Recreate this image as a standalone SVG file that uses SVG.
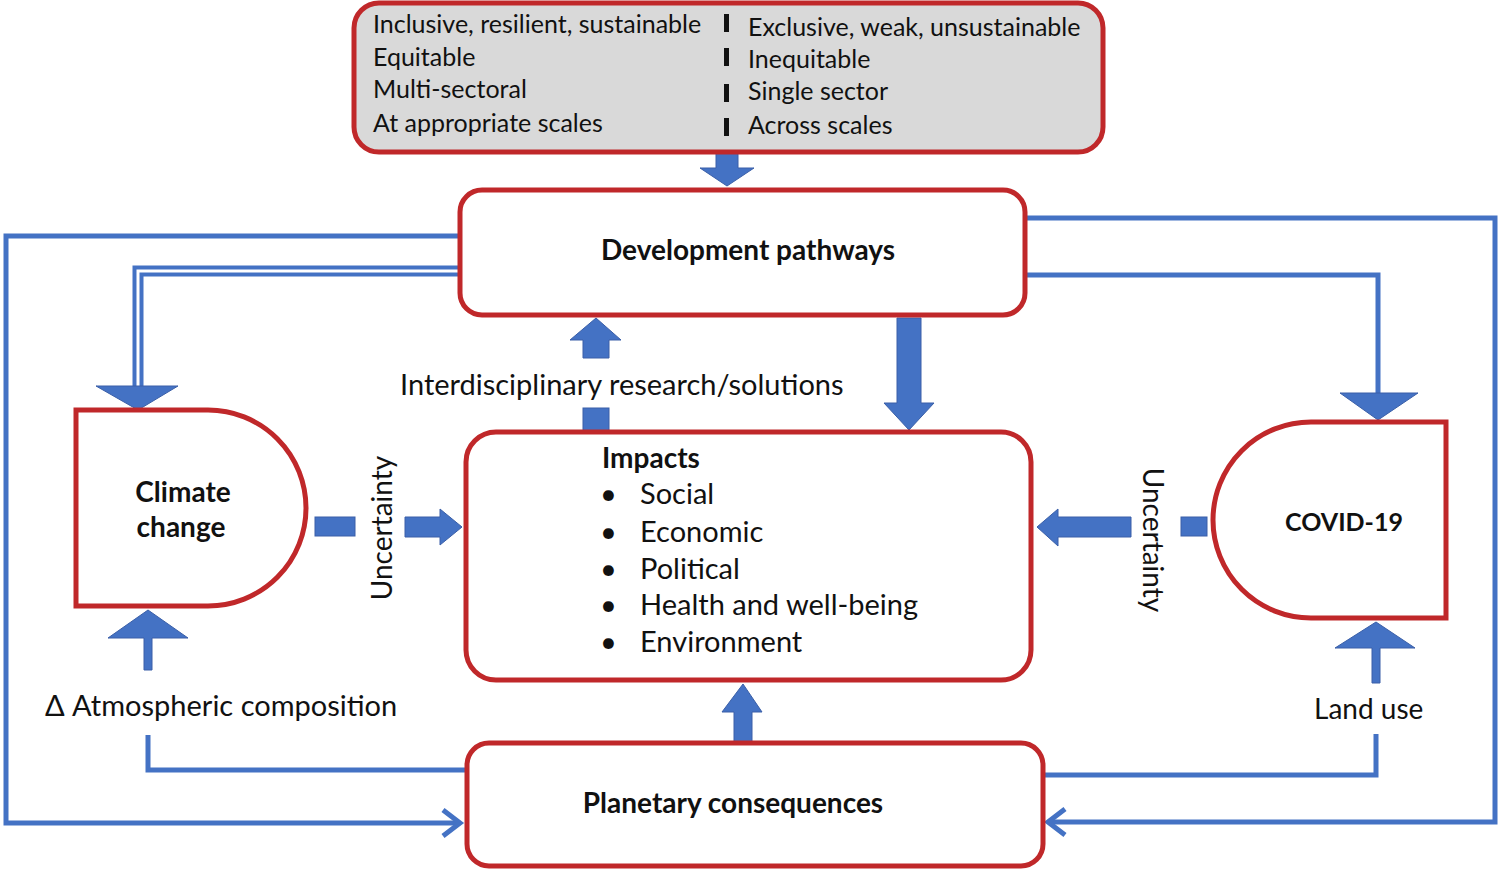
<svg xmlns="http://www.w3.org/2000/svg" width="1500" height="869" viewBox="0 0 1500 869">
<style>
.box{fill:#fff;stroke:#c0282a;stroke-width:5}
.t{font-family:Lato,"Liberation Sans",sans-serif;font-size:25px;fill:#111}
.m{font-size:28px}
.l{font-size:29px}
.b{font-weight:bold}
.ln{fill:none;stroke:#4472c4;stroke-width:5}
.bl{fill:#4472c4;stroke:#3a5fa8;stroke-width:1}
</style>
<rect width="1500" height="869" fill="#fff"/>
<g id="connectors">
<polyline class="ln" points="460,236 6,236 6,823 458,823"/>
<polyline class="ln" points="443,810 460,823 443,836"/>
<polyline class="ln" points="1025,218 1495,218 1495,822 1048,822"/>
<polyline class="ln" points="1065,809 1048,822 1065,835"/>
<polyline points="460,271 138,271 138,390" style="fill:none;stroke:#4472c4;stroke-width:11"/>
<polyline points="460,271 138,271 138,390" style="fill:none;stroke:#fff;stroke-width:3"/>
<polygon class="bl" points="96,386 178,386 138,410"/>
<polyline class="ln" points="1025,275 1378,275 1378,395"/>
<polygon class="bl" points="1340,393 1418,393 1378,420"/>
<polygon class="bl" points="716,152 738,152 738,168 754,168 727,186 700,168 716,168"/>
<polygon class="bl" points="897,318 921,318 921,403 934,403 909,430 884,403 897,403"/>
<polygon class="bl" points="570,340 596,318 621,340 609,340 609,358 583,358 583,340"/>
<rect class="bl" x="583" y="408" width="26" height="24"/>
<polygon class="bl" points="734,743 752,743 752,712 762,712 743,684 722,712 734,712"/>
<rect class="bl" x="315" y="517" width="40" height="19"/>
<polygon class="bl" points="405,517 440,517 440,509 462,527 440,545 440,537 405,537"/>
<rect class="bl" x="1181" y="517" width="26" height="19"/>
<polygon class="bl" points="1131,517 1058,517 1058,509 1037,527 1058,546 1058,537 1131,537"/>
<polygon class="bl" points="108,638 148,610 188,638 152,638 152,670 144,670 144,638"/>
<polyline class="ln" points="148,735 148,770 467,770"/>
<polygon class="bl" points="1335,648 1376,622 1415,648 1380,648 1380,683 1372,683 1372,648"/>
<polyline class="ln" points="1376,734 1376,775 1043,775"/>
</g>
<g id="criteria">
<rect x="354" y="3" width="749" height="149" rx="25" fill="#d9d9d9" stroke="#c0282a" stroke-width="5"/>
<text class="t" x="373" y="33">Inclusive, resilient, sustainable</text>
<text class="t" x="373" y="66">Equitable</text>
<text class="t" x="373" y="98">Multi-sectoral</text>
<text class="t" x="373" y="132">At appropriate scales</text>
<text class="t" x="748" y="36">Exclusive, weak, unsustainable</text>
<text class="t" x="748" y="68">Inequitable</text>
<text class="t" x="748" y="100">Single sector</text>
<text class="t" x="748" y="134">Across scales</text>
<rect x="724" y="14" width="5" height="18" fill="#111"/>
<rect x="724" y="48" width="5" height="18" fill="#111"/>
<rect x="724" y="84" width="5" height="18" fill="#111"/>
<rect x="724" y="118" width="5" height="18" fill="#111"/>
</g>
<g id="dev">
<rect class="box" x="460" y="190" width="565" height="125" rx="22"/>
<text class="t m b" x="748" y="260" text-anchor="middle">Development pathways</text>
</g>
<text class="t l" x="400" y="395">Interdisciplinary research/solutions</text>
<g id="impacts">
<rect class="box" x="466" y="432" width="565" height="248" rx="30"/>
<text class="t m b" x="602" y="468">Impacts</text>
<text class="t l" x="600" y="504">•</text><text class="t l" x="640" y="504">Social</text>
<text class="t l" x="600" y="542">•</text><text class="t l" x="640" y="542">Economic</text>
<text class="t l" x="600" y="579">•</text><text class="t l" x="640" y="579">Political</text>
<text class="t l" x="600" y="615">•</text><text class="t l" x="640" y="615">Health and well-being</text>
<text class="t l" x="600" y="652">•</text><text class="t l" x="640" y="652">Environment</text>
</g>
<g id="planetary">
<rect class="box" x="467" y="743" width="576" height="123" rx="22"/>
<text class="t m b" x="733" y="813" text-anchor="middle">Planetary consequences</text>
</g>
<g id="climate">
<path class="box" d="M76,410 H208 A98,98 0 0 1 208,606 H76 Z"/>
<text class="t m b" x="183" y="502" text-anchor="middle">Climate</text>
<text class="t m b" x="181" y="537" text-anchor="middle">change</text>
</g>
<g id="covid">
<path class="box" d="M1446,422 H1311 A98,98 0 0 0 1311,618 H1446 Z"/>
<text class="t b" x="1344" y="531" text-anchor="middle">COVID-19</text>
</g>
<text class="t m" transform="translate(392,528) rotate(-90)" text-anchor="middle">Uncertainty</text>
<text class="t m" transform="translate(1143,540) rotate(90)" text-anchor="middle">Uncertainty</text>
<text class="t l" x="45" y="716">Δ Atmospheric composition</text>
<text class="t m" x="1314" y="719">Land use</text>
</svg>
